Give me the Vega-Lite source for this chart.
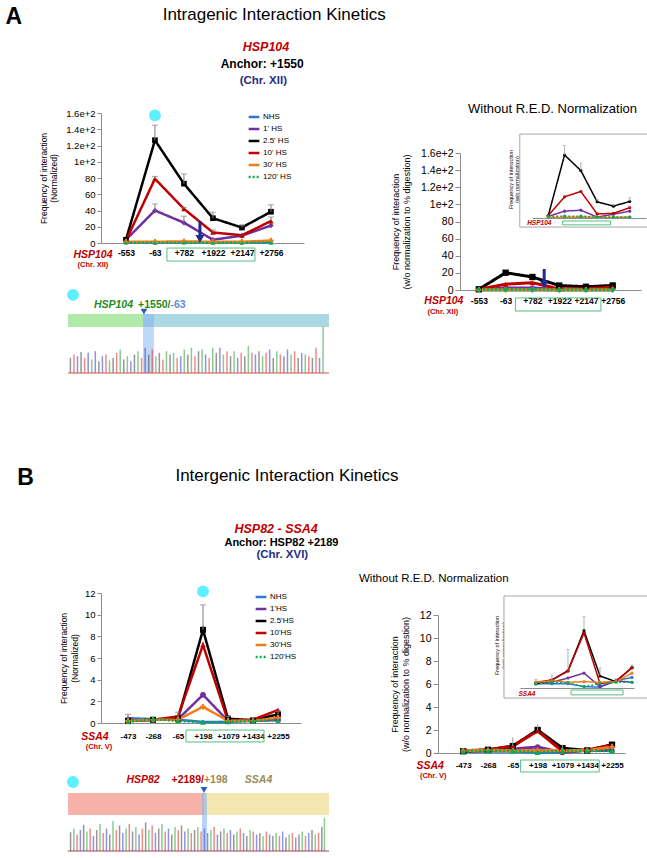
{
  "$schema": "https://vega.github.io/schema/vega-lite/v6.json",
  "padding": {"left": 5, "top": 6, "right": 2, "bottom": 2},
  "spacing": 92,
  "resolve": {"scale": {"color": "independent", "strokeDash": "independent"}},
  "config": {
    "font": "Liberation Sans",
    "view": {"stroke": null},
    "axis": {"grid": false, "domainColor": "#8C8C8C", "tickColor": "#8C8C8C", "labelColor": "#000000", "titleColor": "#000000", "titleFontWeight": "normal", "labelOverlap": false},
    "title": {"color": "#000000", "offset": 0, "anchor": "start"}
  },
  "datasets": {
    "aL": [
      {"p":"-553","s":"NHS","v":0.5},{"p":"-63","s":"NHS","v":0.5},{"p":"+782","s":"NHS","v":0.8},{"p":"+1922","s":"NHS","v":0.8},{"p":"+2147","s":"NHS","v":0.6},{"p":"+2756","s":"NHS","v":0.8},
      {"p":"-553","s":"1' HS","v":4},{"p":"-63","s":"1' HS","v":40,"e":48},{"p":"+782","s":"1' HS","v":25,"e":33},{"p":"+1922","s":"1' HS","v":4},{"p":"+2147","s":"1' HS","v":9},{"p":"+2756","s":"1' HS","v":21.5},
      {"p":"-553","s":"2.5' HS","v":4},{"p":"-63","s":"2.5' HS","v":126.5,"e":145},{"p":"+782","s":"2.5' HS","v":73,"e":85},{"p":"+1922","s":"2.5' HS","v":30.5,"e":38},{"p":"+2147","s":"2.5' HS","v":19,"e":21.5},{"p":"+2756","s":"2.5' HS","v":38.5,"e":47},
      {"p":"-553","s":"10' HS","v":3},{"p":"-63","s":"10' HS","v":79,"e":82},{"p":"+782","s":"10' HS","v":42,"e":44},{"p":"+1922","s":"10' HS","v":13,"e":16},{"p":"+2147","s":"10' HS","v":9.5},{"p":"+2756","s":"10' HS","v":27,"e":32},
      {"p":"-553","s":"30' HS","v":1.5},{"p":"-63","s":"30' HS","v":1.5},{"p":"+782","s":"30' HS","v":2},{"p":"+1922","s":"30' HS","v":1.5},{"p":"+2147","s":"30' HS","v":1.5},{"p":"+2756","s":"30' HS","v":3},
      {"p":"-553","s":"120' HS","v":0.5},{"p":"-63","s":"120' HS","v":0.3},{"p":"+782","s":"120' HS","v":0.5},{"p":"+1922","s":"120' HS","v":0.3},{"p":"+2147","s":"120' HS","v":0.3},{"p":"+2756","s":"120' HS","v":0.3}
    ],
    "aR": [
      {"p":"-553","s":"NHS","v":0.1},{"p":"-63","s":"NHS","v":0.1},{"p":"+782","s":"NHS","v":0.1},{"p":"+1922","s":"NHS","v":0.1},{"p":"+2147","s":"NHS","v":0.1},{"p":"+2756","s":"NHS","v":0.1},
      {"p":"-553","s":"1' HS","v":0.5},{"p":"-63","s":"1' HS","v":2.2},{"p":"+782","s":"1' HS","v":2.5},{"p":"+1922","s":"1' HS","v":0.3},{"p":"+2147","s":"1' HS","v":1.2},{"p":"+2756","s":"1' HS","v":2.2},
      {"p":"-553","s":"2.5' HS","v":0.8},{"p":"-63","s":"2.5' HS","v":20.2,"e":23.2},{"p":"+782","s":"2.5' HS","v":15.2,"e":17.6},{"p":"+1922","s":"2.5' HS","v":5.2,"e":6},{"p":"+2147","s":"2.5' HS","v":3.8,"e":4.2},{"p":"+2756","s":"2.5' HS","v":5.3,"e":6.5},
      {"p":"-553","s":"10' HS","v":0.8},{"p":"-63","s":"10' HS","v":6.8},{"p":"+782","s":"10' HS","v":8.5},{"p":"+1922","s":"10' HS","v":1.3},{"p":"+2147","s":"10' HS","v":1.5},{"p":"+2756","s":"10' HS","v":3.3,"e":3.8},
      {"p":"-553","s":"30' HS","v":0.2},{"p":"-63","s":"30' HS","v":0.2},{"p":"+782","s":"30' HS","v":0.3},{"p":"+1922","s":"30' HS","v":0.2},{"p":"+2147","s":"30' HS","v":0.2},{"p":"+2756","s":"30' HS","v":0.3},
      {"p":"-553","s":"120' HS","v":0.5},{"p":"-63","s":"120' HS","v":0.6},{"p":"+782","s":"120' HS","v":0.6},{"p":"+1922","s":"120' HS","v":0.3},{"p":"+2147","s":"120' HS","v":0.3},{"p":"+2756","s":"120' HS","v":0.3}
    ],
    "bL": [
      {"p":"-473","s":"NHS","v":0.45,"e":0.8},{"p":"-268","s":"NHS","v":0.35},{"p":"-65","s":"NHS","v":0.3},{"p":"+198","s":"NHS","v":0.1},{"p":"+1079","s":"NHS","v":0.1},{"p":"+1434","s":"NHS","v":0.2},{"p":"+2255","s":"NHS","v":0.3},
      {"p":"-473","s":"1'HS","v":0.2},{"p":"-268","s":"1'HS","v":0.3},{"p":"-65","s":"1'HS","v":0.35},{"p":"+198","s":"1'HS","v":2.6},{"p":"+1079","s":"1'HS","v":0.2},{"p":"+1434","s":"1'HS","v":0.2},{"p":"+2255","s":"1'HS","v":0.3},
      {"p":"-473","s":"2.5'HS","v":0.2},{"p":"-268","s":"2.5'HS","v":0.3},{"p":"-65","s":"2.5'HS","v":0.4,"e":1.0},{"p":"+198","s":"2.5'HS","v":8.6,"e":10.9},{"p":"+1079","s":"2.5'HS","v":0.4,"e":0.6},{"p":"+1434","s":"2.5'HS","v":0.25,"e":0.5},{"p":"+2255","s":"2.5'HS","v":0.8,"e":1.1},
      {"p":"-473","s":"10'HS","v":0.2},{"p":"-268","s":"10'HS","v":0.3},{"p":"-65","s":"10'HS","v":0.6},{"p":"+198","s":"10'HS","v":7.2},{"p":"+1079","s":"10'HS","v":0.2},{"p":"+1434","s":"10'HS","v":0.3},{"p":"+2255","s":"10'HS","v":1.2},
      {"p":"-473","s":"30'HS","v":0.2},{"p":"-268","s":"30'HS","v":0.3},{"p":"-65","s":"30'HS","v":0.3},{"p":"+198","s":"30'HS","v":1.5},{"p":"+1079","s":"30'HS","v":0.2},{"p":"+1434","s":"30'HS","v":0.2},{"p":"+2255","s":"30'HS","v":0.5},
      {"p":"-473","s":"120'HS","v":0.1},{"p":"-268","s":"120'HS","v":0.35},{"p":"-65","s":"120'HS","v":0.2},{"p":"+198","s":"120'HS","v":0.05},{"p":"+1079","s":"120'HS","v":0.1},{"p":"+1434","s":"120'HS","v":0.2},{"p":"+2255","s":"120'HS","v":0.25}
    ],
    "bR": [
      {"p":"-473","s":"NHS","v":0.15},{"p":"-268","s":"NHS","v":0.15},{"p":"-65","s":"NHS","v":0.15},{"p":"+198","s":"NHS","v":0.05},{"p":"+1079","s":"NHS","v":0.03},{"p":"+1434","s":"NHS","v":0.25},{"p":"+2255","s":"NHS","v":0.37},
      {"p":"-473","s":"1'HS","v":0.15},{"p":"-268","s":"1'HS","v":0.2},{"p":"-65","s":"1'HS","v":0.35},{"p":"+198","s":"1'HS","v":0.52},{"p":"+1079","s":"1'HS","v":0.05},{"p":"+1434","s":"1'HS","v":0.25},{"p":"+2255","s":"1'HS","v":0.2},
      {"p":"-473","s":"2.5'HS","v":0.15,"e":0.3},{"p":"-268","s":"2.5'HS","v":0.28,"e":0.45},{"p":"-65","s":"2.5'HS","v":0.6,"e":1.35},{"p":"+198","s":"2.5'HS","v":2.0,"e":2.5},{"p":"+1079","s":"2.5'HS","v":0.42,"e":0.7},{"p":"+1434","s":"2.5'HS","v":0.22,"e":0.32},{"p":"+2255","s":"2.5'HS","v":0.72,"e":0.8},
      {"p":"-473","s":"10'HS","v":0.2},{"p":"-268","s":"10'HS","v":0.28},{"p":"-65","s":"10'HS","v":0.6},{"p":"+198","s":"10'HS","v":1.92},{"p":"+1079","s":"10'HS","v":0.15},{"p":"+1434","s":"10'HS","v":0.25},{"p":"+2255","s":"10'HS","v":0.7},
      {"p":"-473","s":"30'HS","v":0.2},{"p":"-268","s":"30'HS","v":0.25},{"p":"-65","s":"30'HS","v":0.2},{"p":"+198","s":"30'HS","v":0.22},{"p":"+1079","s":"30'HS","v":0.2},{"p":"+1434","s":"30'HS","v":0.22},{"p":"+2255","s":"30'HS","v":0.52},
      {"p":"-473","s":"120'HS","v":0.15},{"p":"-268","s":"120'HS","v":0.2},{"p":"-65","s":"120'HS","v":0.18},{"p":"+198","s":"120'HS","v":0.05},{"p":"+1079","s":"120'HS","v":0.15},{"p":"+1434","s":"120'HS","v":0.2},{"p":"+2255","s":"120'HS","v":0.2}
    ],
    "pkA": [
      {"x":1,"c":"K","h":18},{"x":2.5,"c":"R","h":22},{"x":4,"c":"B","h":20},{"x":5.5,"c":"K","h":25},{"x":7,"c":"R","h":18},{"x":8.5,"c":"B","h":24},{"x":10,"c":"G","h":16},{"x":11.5,"c":"B","h":26},{"x":13,"c":"K","h":14},{"x":14.5,"c":"B","h":20},
      {"x":16,"c":"R","h":22},{"x":17.5,"c":"G","h":15},{"x":19,"c":"K","h":18},{"x":20.5,"c":"R","h":24},{"x":22,"c":"G","h":28},{"x":23.5,"c":"K","h":16},{"x":25,"c":"G","h":20},{"x":26.5,"c":"B","h":14},{"x":28,"c":"K","h":22},{"x":29.5,"c":"G","h":26},
      {"x":31,"c":"R","h":18},{"x":32.5,"c":"B","h":30},{"x":34,"c":"K","h":22},{"x":35.5,"c":"R","h":28},{"x":37,"c":"G","h":20},{"x":38.5,"c":"K","h":24},{"x":40,"c":"R","h":16},{"x":41.5,"c":"G","h":26},{"x":43,"c":"K","h":22},{"x":44.5,"c":"G","h":24},
      {"x":46,"c":"R","h":18},{"x":47.5,"c":"B","h":20},{"x":49,"c":"G","h":28},{"x":50.5,"c":"K","h":22},{"x":52,"c":"G","h":30},{"x":53.5,"c":"R","h":20},{"x":55,"c":"K","h":26},{"x":56.5,"c":"G","h":28},{"x":58,"c":"B","h":22},{"x":59.5,"c":"R","h":18},
      {"x":61,"c":"G","h":30},{"x":62.5,"c":"K","h":24},{"x":64,"c":"B","h":30},{"x":65.5,"c":"G","h":22},{"x":67,"c":"R","h":26},{"x":68.5,"c":"K","h":20},{"x":70,"c":"G","h":26},{"x":71.5,"c":"B","h":18},{"x":73,"c":"R","h":24},{"x":74.5,"c":"K","h":20},
      {"x":76,"c":"G","h":32},{"x":77.5,"c":"R","h":24},{"x":79,"c":"B","h":22},{"x":80.5,"c":"K","h":26},{"x":82,"c":"G","h":20},{"x":83.5,"c":"R","h":24},{"x":85,"c":"B","h":28},{"x":86.5,"c":"K","h":18},{"x":88,"c":"G","h":26},{"x":89.5,"c":"R","h":22},
      {"x":91,"c":"K","h":20},{"x":92.5,"c":"B","h":28},{"x":94,"c":"G","h":22},{"x":95.5,"c":"R","h":26},{"x":97,"c":"K","h":18},{"x":98.5,"c":"B","h":24},{"x":100,"c":"G","h":22},{"x":101.5,"c":"R","h":20},{"x":103,"c":"K","h":18},{"x":104.5,"c":"R","h":30},
      {"x":106,"c":"B","h":18},{"x":107.5,"c":"G","h":55}
    ],
    "pkB": [
      {"x":2,"c":"K","h":25},{"x":4.5,"c":"G","h":30},{"x":7,"c":"R","h":22},{"x":9.5,"c":"B","h":28},{"x":12,"c":"K","h":35},{"x":14.5,"c":"G","h":26},{"x":17,"c":"R","h":30},{"x":19.5,"c":"B","h":20},{"x":22,"c":"K","h":28},{"x":24.5,"c":"G","h":36},
      {"x":27,"c":"R","h":24},{"x":29.5,"c":"B","h":30},{"x":32,"c":"K","h":22},{"x":34.5,"c":"G","h":40},{"x":37,"c":"R","h":28},{"x":39.5,"c":"K","h":34},{"x":42,"c":"B","h":24},{"x":44.5,"c":"G","h":30},{"x":47,"c":"R","h":36},{"x":49.5,"c":"K","h":26},
      {"x":52,"c":"G","h":32},{"x":54.5,"c":"B","h":22},{"x":57,"c":"R","h":30},{"x":59.5,"c":"K","h":38},{"x":62,"c":"G","h":28},{"x":64.5,"c":"R","h":34},{"x":67,"c":"B","h":24},{"x":69.5,"c":"K","h":30},{"x":72,"c":"G","h":36},{"x":74.5,"c":"R","h":26},
      {"x":77,"c":"B","h":30},{"x":79.5,"c":"K","h":22},{"x":82,"c":"G","h":32},{"x":84.5,"c":"R","h":28},{"x":87,"c":"K","h":34},{"x":89.5,"c":"B","h":26},{"x":92,"c":"G","h":30},{"x":94.5,"c":"R","h":24},{"x":97,"c":"K","h":28},{"x":99.5,"c":"G","h":32},
      {"x":102,"c":"R","h":26},{"x":104.5,"c":"B","h":30},{"x":107,"c":"K","h":24},{"x":109.5,"c":"G","h":28},{"x":112,"c":"R","h":32},{"x":114.5,"c":"B","h":22},{"x":117,"c":"K","h":26},{"x":119.5,"c":"G","h":30},{"x":122,"c":"R","h":24},{"x":124.5,"c":"B","h":28},
      {"x":127,"c":"K","h":22},{"x":129.5,"c":"G","h":26},{"x":132,"c":"R","h":30},{"x":134.5,"c":"B","h":24},{"x":137,"c":"K","h":20},{"x":139.5,"c":"G","h":28},{"x":142,"c":"R","h":26},{"x":144.5,"c":"B","h":22},{"x":147,"c":"K","h":24},{"x":149.5,"c":"G","h":20},
      {"x":152,"c":"R","h":26},{"x":154.5,"c":"B","h":22},{"x":157,"c":"K","h":20},{"x":159.5,"c":"G","h":24},{"x":162,"c":"R","h":20},{"x":164.5,"c":"B","h":26},{"x":167,"c":"K","h":18},{"x":169.5,"c":"G","h":22},{"x":172,"c":"R","h":24},{"x":174.5,"c":"B","h":18},
      {"x":177,"c":"K","h":22},{"x":179.5,"c":"G","h":26},{"x":182,"c":"R","h":20},{"x":184.5,"c":"B","h":24},{"x":187,"c":"K","h":28},{"x":189.5,"c":"G","h":22},{"x":192,"c":"R","h":24},{"x":194.5,"c":"K","h":32},{"x":196.5,"c":"G","h":44}
    ]
  },
  "vconcat": [
    {
      "title": {"text": "A", "orient": "left", "anchor": "end", "angle": 0, "fontSize": 23, "fontWeight": "bold", "offset": 1},
      "resolve": {"scale": {"color": "independent", "strokeDash": "independent"}},
      "vconcat": [{
        "title": {"text": "Intragenic Interaction Kinetics", "fontSize": 17, "fontWeight": "normal", "dx": 123, "offset": 17},
        "resolve": {"scale": {"color": "independent", "strokeDash": "independent"}},
        "vconcat": [{
          "title": {"text": "HSP104", "fontSize": 12.5, "fontWeight": "bold", "fontStyle": "italic", "color": "#C00000", "dx": 203, "offset": 4},
          "resolve": {"scale": {"color": "independent", "strokeDash": "independent"}},
          "vconcat": [{
            "title": {"text": "Anchor: +1550", "fontSize": 12, "fontWeight": "bold", "dx": 181, "offset": 4},
            "resolve": {"scale": {"color": "independent", "strokeDash": "independent"}},
            "vconcat": [{
              "title": {"text": "(Chr. XII)", "fontSize": 11.5, "fontWeight": "bold", "color": "#1F2F7F", "dx": 200, "offset": 17},
              "spacing": 61,
              "resolve": {"scale": {"color": "independent", "strokeDash": "independent"}},
              "hconcat": [
                {
                  "spacing": 19,
                  "resolve": {"scale": {"color": "independent", "strokeDash": "independent"}},
                  "vconcat": [
                    {
                      "width": 203, "height": 130,
                      "layer": [
                        {"data": {"name": "aL"}, "mark": {"type": "line", "strokeWidth": 2.5},
                         "encoding": {
                           "x": {"field": "p", "type": "nominal", "scale": {"type": "point", "domain": ["-553","-63","+782","+1922","+2147","+2756"], "padding": 1.13, "align": 0.43},
                                 "axis": {"title": null, "labelAngle": 0, "labelFontWeight": "bold", "labelFontSize": 8.5, "ticks": false, "labelPadding": 5}},
                           "y": {"field": "v", "type": "quantitative", "scale": {"domain": [0,160], "nice": false},
                                 "axis": {"values": [0,20,40,60,80,100,120,140,160], "tickCount": 20, "format": "~g", "labelOverlap": false, "title": ["Frequency of interaction","(Normalized)"], "titleFontSize": 8.5, "titleLineHeight": 10, "titlePadding": 7, "labelFontSize": 9.5, "tickSize": 4}},
                           "color": {"field": "s", "type": "nominal", "scale": {"domain": ["NHS","1' HS","2.5' HS","10' HS","30' HS","120' HS"], "range": ["#2E75D6","#7030A0","#000000","#C00000","#F07D1A","#00B050"]},
                                     "legend": {"orient": "none", "legendX": 146, "legendY": -3, "title": null, "symbolType": "stroke", "symbolStrokeWidth": 2.5, "symbolSize": 115, "labelFontSize": 8, "rowPadding": 0, "labelOffset": 2}},
                           "strokeDash": {"field": "s", "type": "nominal", "scale": {"domain": ["NHS","1' HS","2.5' HS","10' HS","30' HS","120' HS"], "range": [[1,0],[1,0],[1,0],[1,0],[1,0],[2,2]]}}
                         }},
                        {"data": {"name": "aL"}, "transform": [{"filter": {"field": "s", "equal": "NHS"}}], "mark": {"type": "point", "shape": "diamond", "filled": true, "size": 20, "color": "#2E75D6", "opacity": 1}, "encoding": {"x": {"field": "p", "type": "nominal"}, "y": {"field": "v", "type": "quantitative"}}},
                        {"data": {"name": "aL"}, "transform": [{"filter": {"field": "s", "equal": "1' HS"}}], "mark": {"type": "point", "shape": "diamond", "filled": true, "size": 30, "color": "#7030A0", "opacity": 1}, "encoding": {"x": {"field": "p", "type": "nominal"}, "y": {"field": "v", "type": "quantitative"}}},
                        {"data": {"name": "aL"}, "transform": [{"filter": {"field": "s", "equal": "2.5' HS"}}], "mark": {"type": "point", "shape": "square", "filled": true, "size": 32, "color": "#000000", "opacity": 1}, "encoding": {"x": {"field": "p", "type": "nominal"}, "y": {"field": "v", "type": "quantitative"}}},
                        {"data": {"name": "aL"}, "transform": [{"filter": {"field": "s", "equal": "10' HS"}}], "mark": {"type": "point", "shape": "triangle-up", "filled": true, "size": 30, "color": "#C00000", "opacity": 1}, "encoding": {"x": {"field": "p", "type": "nominal"}, "y": {"field": "v", "type": "quantitative"}}},
                        {"data": {"name": "aL"}, "transform": [{"filter": {"field": "s", "equal": "30' HS"}}], "mark": {"type": "point", "shape": "cross", "filled": true, "size": 30, "color": "#F07D1A", "opacity": 1}, "encoding": {"x": {"field": "p", "type": "nominal"}, "y": {"field": "v", "type": "quantitative"}}},
                        {"data": {"name": "aL"}, "transform": [{"filter": {"field": "s", "equal": "120' HS"}}], "mark": {"type": "point", "shape": "triangle-up", "filled": true, "size": 22, "color": "#00B050", "opacity": 1}, "encoding": {"x": {"field": "p", "type": "nominal"}, "y": {"field": "v", "type": "quantitative"}}},
                        {"data": {"name": "aL"}, "transform": [{"filter": "isValid(datum.e)"}], "mark": {"type": "rule", "color": "#7F7F7F", "strokeWidth": 1},
                         "encoding": {"x": {"field": "p", "type": "nominal"}, "y": {"field": "v", "type": "quantitative"}, "y2": {"field": "e"}}},
                        {"data": {"name": "aL"}, "transform": [{"filter": "isValid(datum.e)"}], "mark": {"type": "tick", "color": "#7F7F7F", "size": 6, "thickness": 1},
                         "encoding": {"x": {"field": "p", "type": "nominal"}, "y": {"field": "e", "type": "quantitative"}}},
                        {"data": {"values": [{"p": "+782", "p2": "+2147", "y": -6.2, "y2": -22.2}]}, "mark": {"type": "rect", "fillOpacity": 0, "stroke": "#50C080", "strokeWidth": 1, "xOffset": -17, "x2Offset": 13},
                         "encoding": {"x": {"field": "p", "type": "nominal"}, "x2": {"field": "p2"}, "y": {"field": "y", "type": "quantitative"}, "y2": {"field": "y2"}}},
                        {"data": {"values": [{"p": "+1922", "y": 27, "y2": 8}]}, "mark": {"type": "rule", "color": "#1E2C8C", "strokeWidth": 3, "xOffset": -13},
                         "encoding": {"x": {"field": "p", "type": "nominal"}, "y": {"field": "y", "type": "quantitative"}, "y2": {"field": "y2"}}},
                        {"data": {"values": [{"p": "+1922", "y": 5}]}, "mark": {"type": "point", "shape": "triangle-down", "filled": true, "size": 80, "color": "#1E2C8C", "opacity": 1, "xOffset": -13},
                         "encoding": {"x": {"field": "p", "type": "nominal"}, "y": {"field": "y", "type": "quantitative"}}},
                        {"data": {"values": [{"p": "-63", "y": 157}]}, "mark": {"type": "point", "shape": "circle", "filled": true, "size": 140, "color": "#5CF0FF", "opacity": 1},
                         "encoding": {"x": {"field": "p", "type": "nominal"}, "y": {"field": "y", "type": "quantitative"}}},
                        {"data": {"values": [{"p": "-553", "y": -14.8, "t": "HSP104"}]}, "mark": {"type": "text", "fontSize": 10.5, "fontWeight": "bold", "fontStyle": "italic", "color": "#C00000", "xOffset": -33},
                         "encoding": {"x": {"field": "p", "type": "nominal"}, "y": {"field": "y", "type": "quantitative"}, "text": {"field": "t"}}},
                        {"data": {"values": [{"p": "-553", "y": -27, "t": "(Chr. XII)"}]}, "mark": {"type": "text", "fontSize": 7.5, "fontWeight": "bold", "color": "#C00000", "xOffset": -33},
                         "encoding": {"x": {"field": "p", "type": "nominal"}, "y": {"field": "y", "type": "quantitative"}, "text": {"field": "t"}}}
                      ]
                    },
                    {
                      "width": 228, "height": 84,
                      "layer": [
                        {"data": {"values": [{"x": 0, "x2": 32, "y": 54.8, "y2": 70.2}]}, "mark": {"type": "rect", "color": "#A6E8A0", "opacity": 0.9},
                         "encoding": {"x": {"field": "x", "type": "quantitative", "scale": {"domain": [13.9,110], "nice": false, "zero": false}, "axis": null},
                                      "y": {"field": "y", "type": "quantitative", "scale": {"domain": [0,100], "nice": false}, "axis": null},
                                      "x2": {"field": "x2"}, "y2": {"field": "y2"}}},
                        {"data": {"values": [{"x": 32, "x2": 110, "y": 54.8, "y2": 70.2}]}, "mark": {"type": "rect", "color": "#A8D6E2", "opacity": 0.95},
                         "encoding": {"x": {"field": "x", "type": "quantitative"}, "x2": {"field": "x2"}, "y": {"field": "y", "type": "quantitative"}, "y2": {"field": "y2"}}},
                        {"data": {"values": [{"x": 31.6, "x2": 36.2, "y": 0, "y2": 70.2}]}, "mark": {"type": "rect", "color": "#7FB0F2", "opacity": 0.5},
                         "encoding": {"x": {"field": "x", "type": "quantitative"}, "x2": {"field": "x2"}, "y": {"field": "y", "type": "quantitative"}, "y2": {"field": "y2"}}},
                        {"data": {"name": "pkA"}, "mark": {"type": "rule", "strokeWidth": 1.5, "opacity": 0.6},
                         "encoding": {"x": {"field": "x", "type": "quantitative"}, "y": {"field": "h", "type": "quantitative"}, "y2": {"datum": 0},
                                      "color": {"field": "c", "type": "nominal", "scale": {"domain": ["G","R","B","K"], "range": ["#3DA84A","#E0403A","#4A4AD0","#505050"]}, "legend": null}}},
                        {"data": {"values": [{"x": 0, "x2": 110, "y": 0}]}, "mark": {"type": "rule", "color": "#D05050", "strokeWidth": 1},
                         "encoding": {"x": {"field": "x", "type": "quantitative"}, "x2": {"field": "x2"}, "y": {"field": "y", "type": "quantitative"}}},
                        {"data": {"values": [{"x": 32, "y": 73}]}, "mark": {"type": "point", "shape": "triangle-down", "filled": true, "size": 45, "color": "#1F5FBF", "opacity": 1},
                         "encoding": {"x": {"field": "x", "type": "quantitative"}, "y": {"field": "y", "type": "quantitative"}}},
                        {"data": {"values": [{"x": 2.1, "y": 93}]}, "mark": {"type": "point", "shape": "circle", "filled": true, "size": 140, "color": "#5CF0FF", "opacity": 1},
                         "encoding": {"x": {"field": "x", "type": "quantitative"}, "y": {"field": "y", "type": "quantitative"}}},
                        {"data": {"values": [{"x": 27.4, "y": 81, "t": "HSP104"}]}, "mark": {"type": "text", "align": "right", "fontSize": 10.5, "fontWeight": "bold", "fontStyle": "italic", "color": "#1E8C1E"},
                         "encoding": {"x": {"field": "x", "type": "quantitative"}, "y": {"field": "y", "type": "quantitative"}, "text": {"field": "t"}}},
                        {"data": {"values": [{"x": 43.2, "y": 81, "t": "+1550/"}]}, "mark": {"type": "text", "align": "right", "fontSize": 10.5, "fontWeight": "bold", "color": "#1E8C1E"},
                         "encoding": {"x": {"field": "x", "type": "quantitative"}, "y": {"field": "y", "type": "quantitative"}, "text": {"field": "t"}}},
                        {"data": {"values": [{"x": 43.2, "y": 81, "t": "-63"}]}, "mark": {"type": "text", "align": "left", "fontSize": 10.5, "fontWeight": "bold", "color": "#5B8FD8"},
                         "encoding": {"x": {"field": "x", "type": "quantitative"}, "y": {"field": "y", "type": "quantitative"}, "text": {"field": "t"}}}
                      ]
                    }
                  ]
                },
                {
                  "title": {"text": "Without R.E.D. Normalization", "fontSize": 13, "fontWeight": "normal", "frame": "group", "anchor": "middle", "offset": 0, "dx": 2, "dy": 3},
                  "width": 181, "height": 177,
                  "layer": [
                    {"layer": [
                      {"data": {"name": "aR"}, "mark": {"type": "line", "strokeWidth": 3},
                       "encoding": {
                         "x": {"field": "p", "type": "nominal", "scale": {"type": "point", "domain": ["-553","-63","+782","+1922","+2147","+2756"], "padding": 0.88, "align": 0.4},
                               "axis": {"title": null, "labelAngle": 0, "labelFontWeight": "bold", "labelFontSize": 8.5, "ticks": false, "labelPadding": 6}},
                         "y": {"field": "v", "type": "quantitative", "scale": {"domain": [0,160], "nice": false, "range": [177, 40]},
                               "axis": {"values": [0,20,40,60,80,100,120,140,160], "tickCount": 20, "format": "~g", "labelOverlap": false, "title": ["Frequency of interaction","(w/o normalization to % digestion)"], "titleFontSize": 9, "titleLineHeight": 11, "titlePadding": 9, "labelFontSize": 10.5, "tickSize": 5}},
                         "color": {"field": "s", "type": "nominal", "scale": {"domain": ["NHS","1' HS","2.5' HS","10' HS","30' HS","120' HS"], "range": ["#2E75D6","#7030A0","#000000","#C00000","#F07D1A","#00B050"]}, "legend": null},
                         "strokeDash": {"field": "s", "type": "nominal", "scale": {"domain": ["NHS","1' HS","2.5' HS","10' HS","30' HS","120' HS"], "range": [[1,0],[1,0],[1,0],[1,0],[1,0],[2,2]]}, "legend": null}
                       }},
                      {"data": {"name": "aR"}, "transform": [{"filter": {"field": "s", "equal": "NHS"}}], "mark": {"type": "point", "shape": "diamond", "filled": true, "size": 22, "color": "#2E75D6", "opacity": 1}, "encoding": {"x": {"field": "p", "type": "nominal"}, "y": {"field": "v", "type": "quantitative"}}},
                      {"data": {"name": "aR"}, "transform": [{"filter": {"field": "s", "equal": "1' HS"}}], "mark": {"type": "point", "shape": "diamond", "filled": true, "size": 30, "color": "#7030A0", "opacity": 1}, "encoding": {"x": {"field": "p", "type": "nominal"}, "y": {"field": "v", "type": "quantitative"}}},
                      {"data": {"name": "aR"}, "transform": [{"filter": {"field": "s", "equal": "2.5' HS"}}], "mark": {"type": "point", "shape": "square", "filled": true, "size": 40, "color": "#000000", "opacity": 1}, "encoding": {"x": {"field": "p", "type": "nominal"}, "y": {"field": "v", "type": "quantitative"}}},
                      {"data": {"name": "aR"}, "transform": [{"filter": {"field": "s", "equal": "10' HS"}}], "mark": {"type": "point", "shape": "triangle-up", "filled": true, "size": 32, "color": "#C00000", "opacity": 1}, "encoding": {"x": {"field": "p", "type": "nominal"}, "y": {"field": "v", "type": "quantitative"}}},
                      {"data": {"name": "aR"}, "transform": [{"filter": {"field": "s", "equal": "30' HS"}}], "mark": {"type": "point", "shape": "cross", "filled": true, "size": 30, "color": "#F07D1A", "opacity": 1}, "encoding": {"x": {"field": "p", "type": "nominal"}, "y": {"field": "v", "type": "quantitative"}}},
                      {"data": {"name": "aR"}, "transform": [{"filter": {"field": "s", "equal": "120' HS"}}], "mark": {"type": "point", "shape": "diamond", "filled": true, "size": 30, "color": "#00B050", "opacity": 1}, "encoding": {"x": {"field": "p", "type": "nominal"}, "y": {"field": "v", "type": "quantitative"}}},
                      {"data": {"values": [{"p": "+782", "p2": "+2147", "y": -9.3, "y2": -24.5}]}, "mark": {"type": "rect", "fillOpacity": 0, "stroke": "#50C080", "strokeWidth": 1, "xOffset": -17, "x2Offset": 15},
                       "encoding": {"x": {"field": "p", "type": "nominal"}, "x2": {"field": "p2"}, "y": {"field": "y", "type": "quantitative"}, "y2": {"field": "y2"}}},
                      {"data": {"values": [{"p": "+1922", "y": 24.5, "y2": 10}]}, "mark": {"type": "rule", "color": "#1E2C8C", "strokeWidth": 3, "xOffset": -15},
                       "encoding": {"x": {"field": "p", "type": "nominal"}, "y": {"field": "y", "type": "quantitative"}, "y2": {"field": "y2"}}},
                      {"data": {"values": [{"p": "+1922", "y": 6.5}]}, "mark": {"type": "point", "shape": "triangle-down", "filled": true, "size": 80, "color": "#1E2C8C", "opacity": 1, "xOffset": -15},
                       "encoding": {"x": {"field": "p", "type": "nominal"}, "y": {"field": "y", "type": "quantitative"}}},
                      {"data": {"values": [{"p": "-553", "y": -12.9, "t": "HSP104"}]}, "mark": {"type": "text", "fontSize": 10.5, "fontWeight": "bold", "fontStyle": "italic", "color": "#C00000", "xOffset": -35},
                       "encoding": {"x": {"field": "p", "type": "nominal"}, "y": {"field": "y", "type": "quantitative"}, "text": {"field": "t"}}},
                      {"data": {"values": [{"p": "-553", "y": -25.7, "t": "(Chr. XII)"}]}, "mark": {"type": "text", "fontSize": 7.5, "fontWeight": "bold", "color": "#C00000", "xOffset": -36},
                       "encoding": {"x": {"field": "p", "type": "nominal"}, "y": {"field": "y", "type": "quantitative"}, "text": {"field": "t"}}}
                    ]},
                    {"layer": [
                      {"data": {"values": [{"p": "-553", "p2": "+2756", "y": 26.9, "y2": -2.9}]}, "mark": {"type": "rect", "fill": "#FFFFFF", "stroke": "#A6A6A6", "strokeWidth": 1, "xOffset": -28.5, "x2Offset": 21.5},
                       "encoding": {
                         "x": {"field": "p", "type": "nominal", "scale": {"type": "point", "domain": ["-553","-63","+782","+1922","+2147","+2756"], "range": [72,186], "padding": 1.02, "align": 0.5},
                               "axis": {"orient": "bottom", "offset": -72, "labels": false, "ticks": false, "title": null}},
                         "x2": {"field": "p2"},
                         "y": {"field": "y", "type": "quantitative", "scale": {"domain": [0,25], "nice": false, "range": [105,27]},
                               "axis": {"orient": "left", "offset": -72, "values": [0,5,10,15,20,25], "tickCount": 20, "format": "~g", "labelOverlap": false, "labelFontSize": 5.5, "tickSize": 2, "labelPadding": 1, "title": ["Frequency of interaction","(w/o normalization)"], "titleFontSize": 5.5, "titleLineHeight": 6.5, "titlePadding": 3}},
                         "y2": {"field": "y2"}}},
                      {"data": {"name": "aR"}, "mark": {"type": "line", "strokeWidth": 1.5},
                       "encoding": {"x": {"field": "p", "type": "nominal"}, "y": {"field": "v", "type": "quantitative"}, "color": {"field": "s", "type": "nominal", "legend": null}, "strokeDash": {"field": "s", "type": "nominal", "legend": null}}},
                      {"data": {"name": "aR"}, "mark": {"type": "point", "filled": true, "size": 10, "opacity": 1},
                       "encoding": {"x": {"field": "p", "type": "nominal"}, "y": {"field": "v", "type": "quantitative"}, "color": {"field": "s", "type": "nominal", "legend": null}}},
                      {"data": {"name": "aR"}, "transform": [{"filter": "isValid(datum.e)"}], "mark": {"type": "rule", "color": "#9A9A9A", "strokeWidth": 0.8},
                       "encoding": {"x": {"field": "p", "type": "nominal"}, "y": {"field": "v", "type": "quantitative"}, "y2": {"field": "e"}}},
                      {"data": {"name": "aR"}, "transform": [{"filter": "isValid(datum.e)"}], "mark": {"type": "tick", "color": "#9A9A9A", "size": 3, "thickness": 0.8},
                       "encoding": {"x": {"field": "p", "type": "nominal"}, "y": {"field": "e", "type": "quantitative"}}},
                      {"data": {"values": [{"p": "-63", "p2": "+2147", "y": -0.96, "y2": -2.2}]}, "mark": {"type": "rect", "fillOpacity": 0, "stroke": "#50C080", "strokeWidth": 1, "xOffset": -2, "x2Offset": -3},
                       "encoding": {"x": {"field": "p", "type": "nominal"}, "x2": {"field": "p2"}, "y": {"field": "y", "type": "quantitative"}, "y2": {"field": "y2"}}},
                      {"data": {"values": [{"p": "-553", "y": -1.6, "t": "HSP104"}]}, "mark": {"type": "text", "fontSize": 6.5, "fontWeight": "bold", "fontStyle": "italic", "color": "#C00000", "xOffset": -9},
                       "encoding": {"x": {"field": "p", "type": "nominal"}, "y": {"field": "y", "type": "quantitative"}, "text": {"field": "t"}}}
                    ]}
                  ],
                  "resolve": {"scale": {"x": "independent", "y": "independent"}}
                }
              ]
            }]
          }]
        }]
      }]
    },
    {
      "title": {"text": "B", "orient": "left", "anchor": "end", "angle": 0, "fontSize": 23, "fontWeight": "bold", "offset": 9},
      "resolve": {"scale": {"color": "independent", "strokeDash": "independent"}},
      "vconcat": [{
        "title": {"text": "Intergenic Interaction Kinetics", "fontSize": 17, "fontWeight": "normal", "dx": 116, "offset": 38},
        "resolve": {"scale": {"color": "independent", "strokeDash": "independent"}},
        "vconcat": [{
          "title": {"text": "HSP82 - SSA4", "fontSize": 12.5, "fontWeight": "bold", "fontStyle": "italic", "color": "#C00000", "dx": 175, "offset": 2},
          "resolve": {"scale": {"color": "independent", "strokeDash": "independent"}},
          "vconcat": [{
            "title": {"text": "Anchor: HSP82  +2189", "fontSize": 11, "fontWeight": "bold", "dx": 165, "offset": 1},
            "resolve": {"scale": {"color": "independent", "strokeDash": "independent"}},
            "vconcat": [{
              "title": {"text": "(Chr. XVI)", "fontSize": 11.5, "fontWeight": "bold", "color": "#1F2F7F", "dx": 197, "offset": 12},
              "spacing": 29,
              "resolve": {"scale": {"color": "independent", "strokeDash": "independent"}},
              "hconcat": [
                {
                  "spacing": 23,
                  "resolve": {"scale": {"color": "independent", "strokeDash": "independent"}},
                  "vconcat": [
                    {
                      "width": 200, "height": 130,
                      "layer": [
                        {"data": {"name": "bL"}, "mark": {"type": "line", "strokeWidth": 2.5},
                         "encoding": {
                           "x": {"field": "p", "type": "nominal", "scale": {"type": "point", "domain": ["-473","-268","-65","+198","+1079","+1434","+2255"], "padding": 1.0, "align": 0.54},
                                 "axis": {"title": null, "labelAngle": 0, "labelFontWeight": "bold", "labelFontSize": 8, "ticks": false, "labelPadding": 9}},
                           "y": {"field": "v", "type": "quantitative", "scale": {"domain": [0,12], "nice": false},
                                 "axis": {"values": [0,2,4,6,8,10,12], "tickCount": 20, "format": "~g", "labelOverlap": false, "title": ["Frequency of interaction","(Normalized)"], "titleFontSize": 8.5, "titleLineHeight": 11, "titlePadding": 5, "labelFontSize": 9.5, "tickSize": 4}},
                           "color": {"field": "s", "type": "nominal", "scale": {"domain": ["NHS","1'HS","2.5'HS","10'HS","30'HS","120'HS"], "range": ["#2E75D6","#7030A0","#000000","#C00000","#F07D1A","#00B050"]},
                                     "legend": {"orient": "none", "legendX": 153, "legendY": -3, "title": null, "symbolType": "stroke", "symbolStrokeWidth": 2.5, "symbolSize": 115, "labelFontSize": 8, "rowPadding": 0, "labelOffset": 2}},
                           "strokeDash": {"field": "s", "type": "nominal", "scale": {"domain": ["NHS","1'HS","2.5'HS","10'HS","30'HS","120'HS"], "range": [[1,0],[1,0],[1,0],[1,0],[1,0],[2,2]]}}
                         }},
                        {"data": {"name": "bL"}, "transform": [{"filter": {"field": "s", "equal": "NHS"}}], "mark": {"type": "point", "shape": "diamond", "filled": true, "size": 22, "color": "#2E75D6", "opacity": 1}, "encoding": {"x": {"field": "p", "type": "nominal"}, "y": {"field": "v", "type": "quantitative"}}},
                        {"data": {"name": "bL"}, "transform": [{"filter": {"field": "s", "equal": "1'HS"}}], "mark": {"type": "point", "shape": "circle", "filled": true, "size": 34, "color": "#7030A0", "opacity": 1}, "encoding": {"x": {"field": "p", "type": "nominal"}, "y": {"field": "v", "type": "quantitative"}}},
                        {"data": {"name": "bL"}, "transform": [{"filter": {"field": "s", "equal": "2.5'HS"}}], "mark": {"type": "point", "shape": "square", "filled": true, "size": 36, "color": "#000000", "opacity": 1}, "encoding": {"x": {"field": "p", "type": "nominal"}, "y": {"field": "v", "type": "quantitative"}}},
                        {"data": {"name": "bL"}, "transform": [{"filter": {"field": "s", "equal": "10'HS"}}], "mark": {"type": "point", "shape": "triangle-up", "filled": true, "size": 30, "color": "#C00000", "opacity": 1}, "encoding": {"x": {"field": "p", "type": "nominal"}, "y": {"field": "v", "type": "quantitative"}}},
                        {"data": {"name": "bL"}, "transform": [{"filter": {"field": "s", "equal": "30'HS"}}], "mark": {"type": "point", "shape": "cross", "filled": true, "size": 30, "color": "#F07D1A", "opacity": 1}, "encoding": {"x": {"field": "p", "type": "nominal"}, "y": {"field": "v", "type": "quantitative"}}},
                        {"data": {"name": "bL"}, "transform": [{"filter": {"field": "s", "equal": "120'HS"}}], "mark": {"type": "point", "shape": "triangle-up", "filled": true, "size": 30, "color": "#00B050", "opacity": 1}, "encoding": {"x": {"field": "p", "type": "nominal"}, "y": {"field": "v", "type": "quantitative"}}},
                        {"data": {"name": "bL"}, "transform": [{"filter": "isValid(datum.e)"}], "mark": {"type": "rule", "color": "#7F7F7F", "strokeWidth": 1},
                         "encoding": {"x": {"field": "p", "type": "nominal"}, "y": {"field": "v", "type": "quantitative"}, "y2": {"field": "e"}}},
                        {"data": {"name": "bL"}, "transform": [{"filter": "isValid(datum.e)"}], "mark": {"type": "tick", "color": "#7F7F7F", "size": 6, "thickness": 1},
                         "encoding": {"x": {"field": "p", "type": "nominal"}, "y": {"field": "e", "type": "quantitative"}}},
                        {"data": {"values": [{"p": "+198", "p2": "+1434", "y": -0.65, "y2": -1.75}]}, "mark": {"type": "rect", "fillOpacity": 0, "stroke": "#50C080", "strokeWidth": 1, "xOffset": -17, "x2Offset": 11},
                         "encoding": {"x": {"field": "p", "type": "nominal"}, "x2": {"field": "p2"}, "y": {"field": "y", "type": "quantitative"}, "y2": {"field": "y2"}}},
                        {"data": {"values": [{"p": "+198", "y": 12.15}]}, "mark": {"type": "point", "shape": "circle", "filled": true, "size": 140, "color": "#5CF0FF", "opacity": 1},
                         "encoding": {"x": {"field": "p", "type": "nominal"}, "y": {"field": "y", "type": "quantitative"}}},
                        {"data": {"values": [{"p": "-473", "y": -1.29, "t": "SSA4"}]}, "mark": {"type": "text", "fontSize": 10.5, "fontWeight": "bold", "fontStyle": "italic", "color": "#C00000", "xOffset": -33},
                         "encoding": {"x": {"field": "p", "type": "nominal"}, "y": {"field": "y", "type": "quantitative"}, "text": {"field": "t"}}},
                        {"data": {"values": [{"p": "-473", "y": -2.2, "t": "(Chr. V)"}]}, "mark": {"type": "text", "fontSize": 7.5, "fontWeight": "bold", "color": "#C00000", "xOffset": -29},
                         "encoding": {"x": {"field": "p", "type": "nominal"}, "y": {"field": "y", "type": "quantitative"}, "text": {"field": "t"}}}
                      ]
                    },
                    {
                      "width": 228, "height": 75,
                      "layer": [
                        {"data": {"values": [{"x": 0, "x2": 104.2, "y": 48, "y2": 77.3}]}, "mark": {"type": "rect", "color": "#F6ADA3", "opacity": 0.95},
                         "encoding": {"x": {"field": "x", "type": "quantitative", "scale": {"domain": [25.3,200], "nice": false, "zero": false}, "axis": null},
                                      "y": {"field": "y", "type": "quantitative", "scale": {"domain": [0,100], "nice": false}, "axis": null},
                                      "x2": {"field": "x2"}, "y2": {"field": "y2"}}},
                        {"data": {"values": [{"x": 104.2, "x2": 200, "y": 48, "y2": 77.3}]}, "mark": {"type": "rect", "color": "#F4E6AE", "opacity": 0.95},
                         "encoding": {"x": {"field": "x", "type": "quantitative"}, "x2": {"field": "x2"}, "y": {"field": "y", "type": "quantitative"}, "y2": {"field": "y2"}}},
                        {"data": {"values": [{"x": 102.7, "x2": 106.5, "y": 0, "y2": 77.3}]}, "mark": {"type": "rect", "color": "#7FB0F2", "opacity": 0.55},
                         "encoding": {"x": {"field": "x", "type": "quantitative"}, "x2": {"field": "x2"}, "y": {"field": "y", "type": "quantitative"}, "y2": {"field": "y2"}}},
                        {"data": {"name": "pkB"}, "mark": {"type": "rule", "strokeWidth": 1.5, "opacity": 0.6},
                         "encoding": {"x": {"field": "x", "type": "quantitative"}, "y": {"field": "h", "type": "quantitative"}, "y2": {"datum": 0},
                                      "color": {"field": "c", "type": "nominal", "scale": {"domain": ["G","R","B","K"], "range": ["#3DA84A","#E0403A","#4A4AD0","#505050"]}, "legend": null}}},
                        {"data": {"values": [{"x": 0, "x2": 200, "y": 0}]}, "mark": {"type": "rule", "color": "#A04060", "strokeWidth": 1},
                         "encoding": {"x": {"field": "x", "type": "quantitative"}, "x2": {"field": "x2"}, "y": {"field": "y", "type": "quantitative"}}},
                        {"data": {"values": [{"x": 104.2, "y": 81.3}]}, "mark": {"type": "point", "shape": "triangle-down", "filled": true, "size": 45, "color": "#1F5FBF", "opacity": 1},
                         "encoding": {"x": {"field": "x", "type": "quantitative"}, "y": {"field": "y", "type": "quantitative"}}},
                        {"data": {"values": [{"x": 3.8, "y": 92}]}, "mark": {"type": "point", "shape": "circle", "filled": true, "size": 140, "color": "#5CF0FF", "opacity": 1},
                         "encoding": {"x": {"field": "x", "type": "quantitative"}, "y": {"field": "y", "type": "quantitative"}}},
                        {"data": {"values": [{"x": 57.5, "y": 94.7, "t": "HSP82"}]}, "mark": {"type": "text", "align": "center", "fontSize": 10.5, "fontWeight": "bold", "fontStyle": "italic", "color": "#C00000"},
                         "encoding": {"x": {"field": "x", "type": "quantitative"}, "y": {"field": "y", "type": "quantitative"}, "text": {"field": "t"}}},
                        {"data": {"values": [{"x": 104.2, "y": 94.7, "t": "+2189/"}]}, "mark": {"type": "text", "align": "right", "fontSize": 10.5, "fontWeight": "bold", "color": "#C00000"},
                         "encoding": {"x": {"field": "x", "type": "quantitative"}, "y": {"field": "y", "type": "quantitative"}, "text": {"field": "t"}}},
                        {"data": {"values": [{"x": 104.2, "y": 94.7, "t": "+198"}]}, "mark": {"type": "text", "align": "left", "fontSize": 10.5, "fontWeight": "bold", "color": "#9A8C55"},
                         "encoding": {"x": {"field": "x", "type": "quantitative"}, "y": {"field": "y", "type": "quantitative"}, "text": {"field": "t"}}},
                        {"data": {"values": [{"x": 146, "y": 94.7, "t": "SSA4"}]}, "mark": {"type": "text", "align": "center", "fontSize": 10.5, "fontWeight": "bold", "fontStyle": "italic", "color": "#9A8C55"},
                         "encoding": {"x": {"field": "x", "type": "quantitative"}, "y": {"field": "y", "type": "quantitative"}, "text": {"field": "t"}}}
                      ]
                    }
                  ]
                },
                {
                  "title": {"text": "Without R.E.D. Normalization", "fontSize": 11.5, "fontWeight": "normal", "frame": "group", "anchor": "start", "offset": 9, "dx": -79},
                  "width": 187, "height": 160,
                  "layer": [
                    {"layer": [
                      {"data": {"name": "bR"}, "mark": {"type": "line", "strokeWidth": 3},
                       "encoding": {
                         "x": {"field": "p", "type": "nominal", "scale": {"type": "point", "domain": ["-473","-268","-65","+198","+1079","+1434","+2255"], "padding": 0.77, "align": 0.66},
                               "axis": {"title": null, "labelAngle": 0, "labelFontWeight": "bold", "labelFontSize": 8, "ticks": false, "labelPadding": 8}},
                         "y": {"field": "v", "type": "quantitative", "scale": {"domain": [0,12], "nice": false, "range": [160, 22]},
                               "axis": {"values": [0,2,4,6,8,10,12], "tickCount": 20, "format": "~g", "labelOverlap": false, "title": ["Frequency of interaction","(w/o normalization to % digestion)"], "titleFontSize": 9, "titleLineHeight": 11, "titlePadding": 9, "labelFontSize": 10.5, "tickSize": 5}},
                         "color": {"field": "s", "type": "nominal", "scale": {"domain": ["NHS","1'HS","2.5'HS","10'HS","30'HS","120'HS"], "range": ["#2E75D6","#7030A0","#000000","#C00000","#F07D1A","#00B050"]}, "legend": null},
                         "strokeDash": {"field": "s", "type": "nominal", "scale": {"domain": ["NHS","1'HS","2.5'HS","10'HS","30'HS","120'HS"], "range": [[1,0],[1,0],[1,0],[1,0],[1,0],[2,2]]}, "legend": null}
                       }},
                      {"data": {"name": "bR"}, "transform": [{"filter": {"field": "s", "equal": "NHS"}}], "mark": {"type": "point", "shape": "diamond", "filled": true, "size": 22, "color": "#2E75D6", "opacity": 1}, "encoding": {"x": {"field": "p", "type": "nominal"}, "y": {"field": "v", "type": "quantitative"}}},
                      {"data": {"name": "bR"}, "transform": [{"filter": {"field": "s", "equal": "1'HS"}}], "mark": {"type": "point", "shape": "circle", "filled": true, "size": 30, "color": "#7030A0", "opacity": 1}, "encoding": {"x": {"field": "p", "type": "nominal"}, "y": {"field": "v", "type": "quantitative"}}},
                      {"data": {"name": "bR"}, "transform": [{"filter": {"field": "s", "equal": "2.5'HS"}}], "mark": {"type": "point", "shape": "square", "filled": true, "size": 40, "color": "#000000", "opacity": 1}, "encoding": {"x": {"field": "p", "type": "nominal"}, "y": {"field": "v", "type": "quantitative"}}},
                      {"data": {"name": "bR"}, "transform": [{"filter": {"field": "s", "equal": "10'HS"}}], "mark": {"type": "point", "shape": "triangle-up", "filled": true, "size": 30, "color": "#C00000", "opacity": 1}, "encoding": {"x": {"field": "p", "type": "nominal"}, "y": {"field": "v", "type": "quantitative"}}},
                      {"data": {"name": "bR"}, "transform": [{"filter": {"field": "s", "equal": "30'HS"}}], "mark": {"type": "point", "shape": "cross", "filled": true, "size": 30, "color": "#F07D1A", "opacity": 1}, "encoding": {"x": {"field": "p", "type": "nominal"}, "y": {"field": "v", "type": "quantitative"}}},
                      {"data": {"name": "bR"}, "transform": [{"filter": {"field": "s", "equal": "120'HS"}}], "mark": {"type": "point", "shape": "triangle-up", "filled": true, "size": 36, "color": "#00B050", "opacity": 1}, "encoding": {"x": {"field": "p", "type": "nominal"}, "y": {"field": "v", "type": "quantitative"}}},
                      {"data": {"name": "bR"}, "transform": [{"filter": "isValid(datum.e)"}], "mark": {"type": "rule", "color": "#9A9A9A", "strokeWidth": 1},
                       "encoding": {"x": {"field": "p", "type": "nominal"}, "y": {"field": "v", "type": "quantitative"}, "y2": {"field": "e"}}},
                      {"data": {"values": [{"p": "+198", "p2": "+1434", "y": -0.61, "y2": -1.65}]}, "mark": {"type": "rect", "fillOpacity": 0, "stroke": "#50C080", "strokeWidth": 1, "xOffset": -17, "x2Offset": 12},
                       "encoding": {"x": {"field": "p", "type": "nominal"}, "x2": {"field": "p2"}, "y": {"field": "y", "type": "quantitative"}, "y2": {"field": "y2"}}},
                      {"data": {"values": [{"p": "-473", "y": -1.13, "t": "SSA4"}]}, "mark": {"type": "text", "fontSize": 10.5, "fontWeight": "bold", "fontStyle": "italic", "color": "#C00000", "xOffset": -33},
                       "encoding": {"x": {"field": "p", "type": "nominal"}, "y": {"field": "y", "type": "quantitative"}, "text": {"field": "t"}}},
                      {"data": {"values": [{"p": "-473", "y": -2.0, "t": "(Chr. V)"}]}, "mark": {"type": "text", "fontSize": 7.5, "fontWeight": "bold", "color": "#C00000", "xOffset": -30},
                       "encoding": {"x": {"field": "p", "type": "nominal"}, "y": {"field": "y", "type": "quantitative"}, "text": {"field": "t"}}}
                    ]},
                    {"layer": [
                      {"data": {"values": [{"p": "-473", "p2": "+2255", "y": 3.21, "y2": -0.35}]}, "mark": {"type": "rect", "fill": "#FFFFFF", "stroke": "#A6A6A6", "strokeWidth": 1, "xOffset": -32, "x2Offset": 17},
                       "encoding": {
                         "x": {"field": "p", "type": "nominal", "scale": {"type": "point", "domain": ["-473","-268","-65","+198","+1079","+1434","+2255"], "range": [82,196], "padding": 0.56, "align": 0.89},
                               "axis": {"orient": "bottom", "offset": -65, "labels": false, "ticks": false, "title": null}},
                         "x2": {"field": "p2"},
                         "y": {"field": "y", "type": "quantitative", "scale": {"domain": [0,3], "nice": false, "range": [95,9]},
                               "axis": {"orient": "left", "offset": -82, "values": [0,0.5,1,1.5,2,2.5,3], "tickCount": 20, "format": "~g", "labelOverlap": false, "labelFontSize": 5.5, "tickSize": 2, "labelPadding": 1, "title": ["Frequency of interaction","(w/o normalization)"], "titleFontSize": 5.5, "titleLineHeight": 6.5, "titlePadding": 3}},
                         "y2": {"field": "y2"}}},
                      {"data": {"name": "bR"}, "mark": {"type": "line", "strokeWidth": 1.5},
                       "encoding": {"x": {"field": "p", "type": "nominal"}, "y": {"field": "v", "type": "quantitative"}, "color": {"field": "s", "type": "nominal", "legend": null}, "strokeDash": {"field": "s", "type": "nominal", "legend": null}}},
                      {"data": {"name": "bR"}, "mark": {"type": "point", "filled": true, "size": 10, "opacity": 1},
                       "encoding": {"x": {"field": "p", "type": "nominal"}, "y": {"field": "v", "type": "quantitative"}, "color": {"field": "s", "type": "nominal", "legend": null}}},
                      {"data": {"name": "bR"}, "transform": [{"filter": "isValid(datum.e)"}], "mark": {"type": "rule", "color": "#9A9A9A", "strokeWidth": 0.8},
                       "encoding": {"x": {"field": "p", "type": "nominal"}, "y": {"field": "v", "type": "quantitative"}, "y2": {"field": "e"}}},
                      {"data": {"name": "bR"}, "transform": [{"filter": "isValid(datum.e)"}], "mark": {"type": "tick", "color": "#9A9A9A", "size": 3, "thickness": 0.8},
                       "encoding": {"x": {"field": "p", "type": "nominal"}, "y": {"field": "e", "type": "quantitative"}}},
                      {"data": {"values": [{"p": "-65", "p2": "+1434", "y": -0.07, "y2": -0.24}]}, "mark": {"type": "rect", "fillOpacity": 0, "stroke": "#50C080", "strokeWidth": 1, "xOffset": 3, "x2Offset": 7},
                       "encoding": {"x": {"field": "p", "type": "nominal"}, "x2": {"field": "p2"}, "y": {"field": "y", "type": "quantitative"}, "y2": {"field": "y2"}}},
                      {"data": {"values": [{"p": "-473", "y": -0.21, "t": "SSA4"}]}, "mark": {"type": "text", "fontSize": 6.5, "fontWeight": "bold", "fontStyle": "italic", "color": "#C00000", "xOffset": -9},
                       "encoding": {"x": {"field": "p", "type": "nominal"}, "y": {"field": "y", "type": "quantitative"}, "text": {"field": "t"}}}
                    ]}
                  ],
                  "resolve": {"scale": {"x": "independent", "y": "independent"}}
                }
              ]
            }]
          }]
        }]
      }]
    }
  ]
}
